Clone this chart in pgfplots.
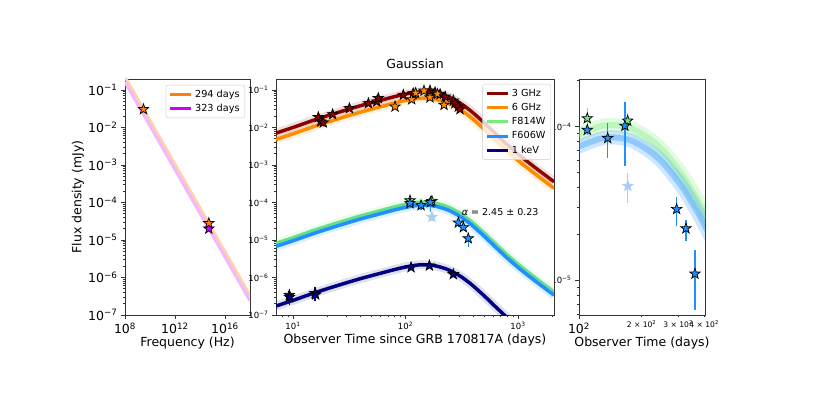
\documentclass[border=0pt]{standalone}
\usepackage{fontspec}
\setmainfont{DejaVu Sans}
\usepackage{pgfplots}
\usepackage{pgfplotstable}
\pgfplotsset{compat=1.18}

\definecolor{cR3}{RGB}{139,0,0}
\definecolor{cR6}{RGB}{255,140,0}
\definecolor{cG}{RGB}{118,236,118}
\definecolor{cB}{RGB}{30,144,255}
\definecolor{cX}{RGB}{0,0,128}
\definecolor{cO}{RGB}{255,127,14}
\definecolor{cV}{RGB}{204,0,255}
\definecolor{cF}{RGB}{170,205,240}

\newcommand\ep[1]{10\textsuperscript{#1}}
\newcommand\fbig{\fontsize{12.5}{14}\selectfont}
\newcommand\fsmall{\fontsize{8.5}{10}\selectfont}
\newcommand\ftiny{\fontsize{7.6}{9}\selectfont}
\newcommand\fleg{\fontsize{9.7}{11}\selectfont}

\pgfdeclareplotmark{fstar}{%
  \pgfpathmoveto{\pgfpointpolar{90}{\pgfplotmarksize}}%
  \pgfpathlineto{\pgfpointpolar{126}{0.4\pgfplotmarksize}}%
  \pgfpathlineto{\pgfpointpolar{162}{\pgfplotmarksize}}%
  \pgfpathlineto{\pgfpointpolar{198}{0.4\pgfplotmarksize}}%
  \pgfpathlineto{\pgfpointpolar{234}{\pgfplotmarksize}}%
  \pgfpathlineto{\pgfpointpolar{270}{0.4\pgfplotmarksize}}%
  \pgfpathlineto{\pgfpointpolar{306}{\pgfplotmarksize}}%
  \pgfpathlineto{\pgfpointpolar{342}{0.4\pgfplotmarksize}}%
  \pgfpathlineto{\pgfpointpolar{18}{\pgfplotmarksize}}%
  \pgfpathlineto{\pgfpointpolar{54}{0.4\pgfplotmarksize}}%
  \pgfpathclose
  \pgfusepathqfillstroke}

\pgfplotsset{
  myaxis/.style={scale only axis, anchor=south west,
    axis line style={black!80, line width=0.8pt},
    tick style={black!80, line width=0.7pt},
    tick align=outside, major tick length=4pt, minor tick length=2.3pt,
    xtick pos=bottom, ytick pos=left,
    legend cell align=left,
    legend image code/.code={\draw[##1] (0pt,0pt) -- (21pt,0pt);},
    legend style={font=\fleg, draw=black!20, rounded corners=2pt, fill=white,
      fill opacity=0.8, draw opacity=1, text opacity=1,
      inner xsep=3pt, inner ysep=2.5pt, row sep=1.2pt,
      nodes={inner sep=2.2pt}},
  },
  logminy/.style={minor ytick={2e-7,3e-7,4e-7,5e-7,6e-7,7e-7,8e-7,9e-7,
    2e-6,3e-6,4e-6,5e-6,6e-6,7e-6,8e-6,9e-6,
    2e-5,3e-5,4e-5,5e-5,6e-5,7e-5,8e-5,9e-5,
    2e-4,3e-4,4e-4,5e-4,6e-4,7e-4,8e-4,9e-4,
    2e-3,3e-3,4e-3,5e-3,6e-3,7e-3,8e-3,9e-3,
    2e-2,3e-2,4e-2,5e-2,6e-2,7e-2,8e-2,9e-2}},
  fstarm/.style={only marks, mark=fstar, mark size=5.5pt,
    mark options={draw=black, line width=0.7pt, fill=#1}},
  faintm/.style={only marks, mark=fstar, mark size=5.5pt,
    mark options={draw=cF, line width=0.7pt, fill=cF}},
  ebar/.style={error bars/y dir=both, error bars/y explicit,
    error bars/error mark=none,
    error bars/error bar style={line width=1.2pt, color=#1}},
}

% model light curves (t [days], flux [mJy])
\pgfplotstableread{
t r3 r6 g b x
7.06 0.00708 0.004786 8.128e-6 6.761e-6 1.738e-7
10 0.0100 0.006761 1.148e-5 9.55e-6 2.455e-7
15.85 0.01622 0.01096 1.862e-5 1.549e-5 3.981e-7
25.12 0.02512 0.01698 2.884e-5 2.399e-5 6.166e-7
39.81 0.03802 0.0257 4.365e-5 3.631e-5 9.333e-7
63.10 0.05496 0.03715 6.31e-5 5.248e-5 1.349e-6
79.43 0.06607 0.04467 7.586e-5 6.31e-5 1.622e-6
100 0.07763 0.05248 8.913e-5 7.413e-5 1.905e-6
125.9 0.0871 0.05888 1.0e-4 8.318e-5 2.138e-6
141.3 0.08913 0.06026 1.023e-4 8.511e-5 2.188e-6
158.5 0.08811 0.05957 1.012e-4 8.414e-5 2.163e-6
177.8 0.08512 0.05754 9.772e-5 8.128e-5 2.089e-6
199.5 0.07852 0.05309 9.016e-5 7.499e-5 1.928e-6
223.9 0.0708 0.04786 8.128e-5 6.761e-5 1.738e-6
251.2 0.06166 0.04169 7.079e-5 5.888e-5 1.514e-6
281.8 0.05129 0.03467 5.888e-5 4.898e-5 1.259e-6
316.2 0.04169 0.02818 4.786e-5 3.981e-5 1.023e-6
354.8 0.03236 0.02188 3.715e-5 3.09e-5 7.943e-7
398.1 0.02455 0.0166 2.818e-5 2.344e-5 6.026e-7
501.2 0.01318 0.008913 1.514e-5 1.259e-5 3.236e-7
631.0 0.006761 0.004571 7.762e-6 6.457e-6 1.66e-7
794.3 0.003548 0.002399 4.074e-6 3.388e-6 8.71e-8
1000 0.00195 0.001318 2.239e-6 1.862e-6 4.8e-8
1259 0.001122 0.000759 1.288e-6 1.072e-6 2.8e-8
1585 0.000661 0.000447 7.586e-7 6.31e-7 1.6e-8
2089 0.000355 0.00024 4.074e-7 3.388e-7 8.5e-9
}\curves

\pgfplotstableread{
t F
16.8 0.0187
17.6 0.0143
18.6 0.0135
22.5 0.0224
31.7 0.0324
46.8 0.044
55.5 0.049
57.3 0.060
95.6 0.0736
117 0.081
165 0.096
183 0.0865
203 0.0768
225 0.066
266 0.052
275 0.044
295 0.0359
305 0.0306
}\rthree

\pgfplotstableread{
t F
80.7 0.0359
113.5 0.056
123 0.083
146 0.095
165 0.063
192 0.078
220 0.0398
}\rsix

\pgfplotstableread{
t F ep em
109.6 1.13e-4 1.9e-5 1.3e-5
171.5 1.09e-4 1.3e-5 1.2e-5
}\optg

\pgfplotstableread{
t F ep em
109.6 9.5e-5 7.6e-6 6.7e-6
137.4 8.4e-5 2.1e-5 2.2e-5
166.3 1.01e-4 4.4e-5 4.6e-5
295 2.9e-5 6e-6 6.5e-6
327 2.17e-5 3.1e-6 3.7e-6
361.5 1.1e-5 4.8e-6 4.65e-6
}\optb

\pgfplotstableread{
t F ep em
171.8 4.1e-5 9e-6 9e-6
}\optf

\pgfplotstableread{
t F ep em
9.27 3.4e-7 1.3e-7 1.5e-7
9.30 3.0e-7 1.0e-7 1.0e-7
15.7 3.8e-7 1.9e-7 1.5e-7
15.9 3.5e-7 1.0e-7 1.0e-7
112 1.86e-6 1e-7 1e-7
163 2.07e-6 1e-7 1e-7
266 1.22e-6 1e-7 1e-7
}\xray

\begin{document}
\begin{tikzpicture}
\path[use as bounding box] (0pt,0pt) rectangle (830pt,396pt);

% ---------------- left panel: spectrum ----------------
\begin{loglogaxis}[myaxis, at={(125pt,81pt)}, width=125pt, height=236pt,
  xmin=1e8, xmax=1e18, ymin=1e-7, ymax=0.196,
  xtick={1e8,1e12,1e16}, xticklabels={\ep{8},\ep{12},\ep{16}},
  minor xtick={},
  ytick={1e-7,1e-6,1e-5,1e-4,1e-3,1e-2,1e-1},
  yticklabels={\ep{−7},\ep{−6},\ep{−5},\ep{−4},\ep{−3},\ep{−2},\ep{−1}},
  logminy, tick label style={font=\fbig},
  xlabel={Frequency (Hz)}, ylabel={Flux density (mJy)},
  label style={font=\fbig},
  xlabel style={at={(axis description cs:0.5,-0.1186)}, anchor=center},
  ylabel style={at={(axis description cs:-0.376,0.5)}, anchor=center},
  legend style={at={(0.96,0.975)}, anchor=north east},
]
\addlegendimage{color=cO, line width=3pt}\addlegendentry{294 days}
\addlegendimage{color=cV, line width=3pt}\addlegendentry{323 days}
\addplot[color=cO!35, line width=3pt, forget plot] coordinates {(1e8,0.222) (1e18,3.3e-7)};
\addplot[color=cV!28, line width=3pt, forget plot] coordinates {(1e8,0.162) (1e18,2.4e-7)};
\addplot[fstarm=cV, forget plot] coordinates {(5.07e14,2.0e-5)};
\addplot[fstarm=cO, forget plot] coordinates {(3e9,0.0305) (5.07e14,2.8e-5)};
\end{loglogaxis}

% ---------------- right panel: optical zoom ----------------
\begin{loglogaxis}[myaxis, at={(579pt,81pt)}, width=126pt, height=236pt,
  xmin=100, xmax=404, ymin=5.93e-6, ymax=2.04e-4,
  xtick={100}, xticklabels={{\fbig\ep{2}}},
  minor xtick={},
  extra x ticks={200,300,400},
  extra x tick labels={{\ftiny 2 × \ep{2}}, {\ftiny 3 × \ep{2}}, {\ftiny 4 × \ep{2}}},
  extra x tick style={major tick length=2.3pt},
  ytick={1e-5,1e-4}, yticklabels={\ep{−5},\ep{−4}},
  minor ytick={6e-6,7e-6,8e-6,9e-6,2e-5,3e-5,4e-5,5e-5,6e-5,7e-5,8e-5,9e-5,2e-4},
  yticklabel style={font=\fsmall},
  xlabel={Observer Time (days)}, label style={font=\fbig},
  xlabel style={at={(axis description cs:0.5,-0.1186)}, anchor=center},
]
\addplot[color=cG, line width=14pt, opacity=0.22, smooth] table[x=t,y=g]{\curves};
\addplot[color=cG, line width=6pt, opacity=0.35, smooth] table[x=t,y=g]{\curves};
\addplot[color=cB, line width=14pt, opacity=0.22, smooth] table[x=t,y=b]{\curves};
\addplot[color=cB, line width=6pt, opacity=0.35, smooth] table[x=t,y=b]{\curves};
\addplot[faintm, ebar=cF] table[x=t,y=F,y error plus=ep,y error minus=em]{\optf};
\addplot[fstarm=cG, ebar=cG] table[x=t,y=F,y error plus=ep,y error minus=em]{\optg};
\addplot[fstarm=cB, ebar=cB] table[x=t,y=F,y error plus=ep,y error minus=em]{\optb};
\end{loglogaxis}

% ---------------- middle panel: light curves ----------------
\begin{loglogaxis}[myaxis, at={(276pt,81pt)}, width=278pt, height=236pt,
  axis background/.style={fill=white},
  xmin=7.06, xmax=2089, ymin=1e-7, ymax=0.196,
  xtick={10,100,1000}, xticklabels={\ep{1},\ep{2},\ep{3}},
  minor xtick={8,9,20,30,40,50,60,70,80,90,200,300,400,500,600,700,800,900,2000},
  ytick={1e-7,1e-6,1e-5,1e-4,1e-3,1e-2,1e-1},
  yticklabels={\ep{−7},\ep{−6},\ep{−5},\ep{−4},\ep{−3},\ep{−2},\ep{−1}},
  logminy, tick label style={font=\fsmall},
  xlabel={Observer Time since GRB 170817A (days)},
  title={Gaussian}, label style={font=\fbig}, title style={font=\fbig},
  xlabel style={at={(axis description cs:0.5,-0.106)}, anchor=center},
  title style={at={(axis description cs:0.5,1.038)}, anchor=center},
  legend style={at={(0.989,0.979)}, anchor=north east},
]
\addlegendimage{color=cR3, line width=3pt}\addlegendentry{3 GHz}
\addlegendimage{color=cR6, line width=3pt}\addlegendentry{6 GHz}
\addlegendimage{color=cG, line width=3pt}\addlegendentry{F814W}
\addlegendimage{color=cB, line width=3pt}\addlegendentry{F606W}
\addlegendimage{color=cX, line width=3pt}\addlegendentry{1 keV}
\addplot[color=cR3, line width=9pt, opacity=0.12, smooth, forget plot] table[x=t,y=r3]{\curves};
\addplot[color=cR3, line width=3.5pt, smooth, forget plot] table[x=t,y=r3]{\curves};
\addplot[color=cR6, line width=9pt, opacity=0.12, smooth, forget plot] table[x=t,y=r6]{\curves};
\addplot[color=cR6, line width=3.5pt, smooth, forget plot] table[x=t,y=r6]{\curves};
\addplot[color=cG, line width=9pt, opacity=0.15, smooth, forget plot] table[x=t,y=g]{\curves};
\addplot[color=cG, line width=3.5pt, smooth, forget plot] table[x=t,y=g]{\curves};
\addplot[color=cB, line width=9pt, opacity=0.15, smooth, forget plot] table[x=t,y=b]{\curves};
\addplot[color=cB, line width=3.5pt, smooth, forget plot] table[x=t,y=b]{\curves};
\addplot[color=cX, line width=9pt, opacity=0.12, smooth, forget plot] table[x=t,y=x]{\curves};
\addplot[color=cX, line width=3.5pt, smooth, forget plot] table[x=t,y=x]{\curves};
\addplot[fstarm=cR3, forget plot] table[x=t,y=F]{\rthree};
\addplot[fstarm=cR6, forget plot] table[x=t,y=F]{\rsix};
\addplot[faintm, ebar=cF, forget plot] table[x=t,y=F,y error plus=ep,y error minus=em]{\optf};
\addplot[fstarm=cG, ebar=cG, forget plot] table[x=t,y=F,y error plus=ep,y error minus=em]{\optg};
\addplot[fstarm=cB, ebar=cB, forget plot] table[x=t,y=F,y error plus=ep,y error minus=em]{\optb};
\addplot[fstarm=cX, ebar=blue!75!black, forget plot] table[x=t,y=F,y error plus=ep,y error minus=em]{\xray};
\node[anchor=west, inner sep=0pt, font=\fontsize{9.5}{11}\selectfont] at (axis cs:316,5.48e-5) {{\itshape α} = 2.45 ± 0.23};
\end{loglogaxis}
\end{tikzpicture}
\end{document}
